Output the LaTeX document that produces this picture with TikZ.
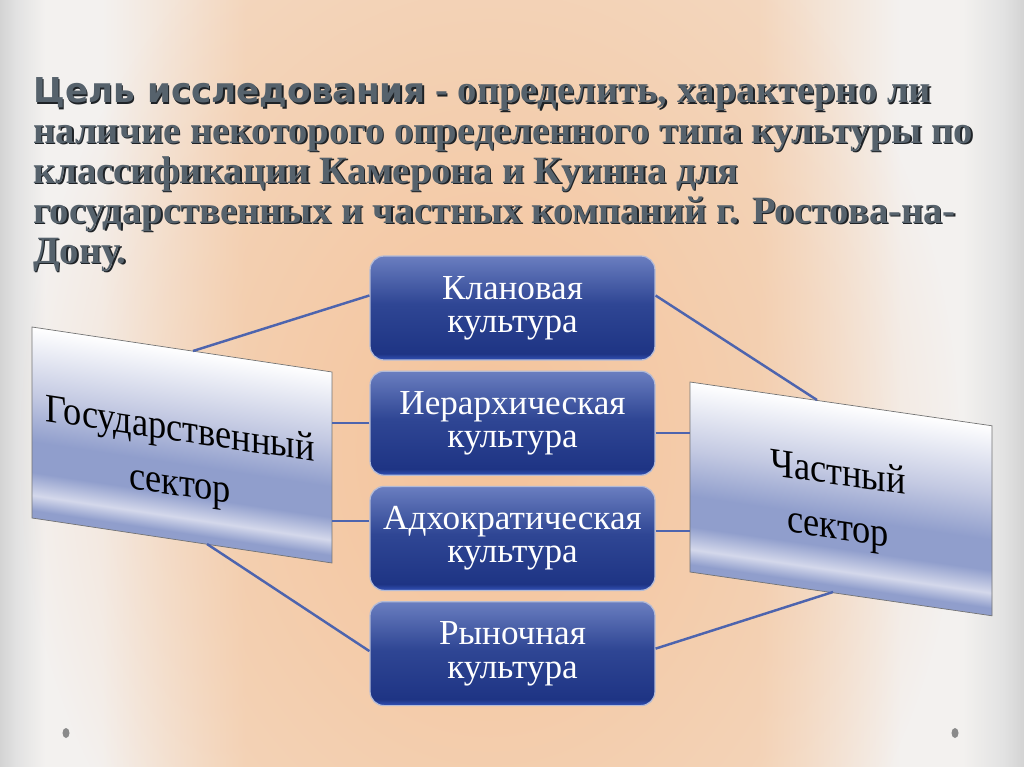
\documentclass[tikz,border=0pt]{standalone}
\usepackage{fontspec}
\setmainfont{Liberation Serif}
\newfontfamily\heavysans{DejaVu Sans}
\newfontfamily\sectorfont{Liberation Serif}[FakeStretch=0.9]
\usetikzlibrary{positioning,fadings}

\definecolor{bggray}{HTML}{D3D3D3}
\definecolor{edgegray}{HTML}{E2E2E2}
\definecolor{paper}{HTML}{F3F1EF}
\definecolor{paperpeach}{HTML}{F3D8C0}
\definecolor{peach}{HTML}{F5C39A}
\definecolor{linkblue}{HTML}{4D64AE}
\definecolor{boxtop}{HTML}{6A7EC0}
\definecolor{boxmid}{HTML}{2F4694}
\definecolor{boxbot}{HTML}{1E3484}
\definecolor{boxedge}{HTML}{3352B8}
\definecolor{boxrim}{HTML}{B4BBD6}
\definecolor{sectorblue}{HTML}{909ECC}
\definecolor{sectormid}{HTML}{C3C9E2}
\definecolor{sectorlight}{HTML}{D4D8EB}
\definecolor{titlegray}{HTML}{56626C}
\definecolor{titledark}{HTML}{1E2226}
\definecolor{dotgray}{HTML}{8A8A8A}

% shadings: the path covers 25bp..75bp
\pgfdeclarehorizontalshading{slidebg}{100bp}{color(0bp)=(bggray); color(25bp)=(bggray); color(25.8bp)=(edgegray); color(27.2bp)=(paper); color(30bp)=(paper); color(37bp)=(paperpeach); color(62bp)=(paperpeach); color(69bp)=(paper); color(72bp)=(paper); color(74bp)=(edgegray); color(75bp)=(bggray); color(100bp)=(bggray)}
\tikzfading[name=glowfade, inner color=transparent!0, outer color=transparent!100]
\pgfdeclareverticalshading{culturefill}{100bp}{color(0bp)=(boxedge); color(25bp)=(boxedge); color(28bp)=(boxbot); color(52bp)=(boxmid); color(75bp)=(boxtop); color(100bp)=(boxtop)}
\pgfdeclareverticalshading{sectorfill}{100bp}{color(0bp)=(sectorblue); color(25bp)=(sectorblue); color(27bp)=(sectorblue); color(31bp)=(sectorlight); color(37bp)=(sectorblue); color(45bp)=(sectorblue); color(57bp)=(sectormid); color(75bp)=(white); color(100bp)=(white)}

\begin{document}
\begin{tikzpicture}[x=0.02cm,y=-0.02cm,
  culture/.style={shade, shading=culturefill, draw=boxrim, line width=0.7pt, rounded corners=0.28cm,
    minimum width=5.7cm, minimum height=2.08cm, text=white, align=center,
    font=\fontsize{20}{19}\selectfont},
  sectorbox/.style={shade, shading=sectorfill, draw=black!55, line width=0.4pt},
  sectortext/.style={align=center, font=\sectorfont\fontsize{23}{31}\selectfont},
  link/.style={draw=linkblue, line width=1.4pt},
  titletext/.style={anchor=base west, inner sep=0pt, text=titlegray,
    font=\bfseries\fontsize{22}{26}\selectfont},
  titleshade/.style={titletext, text=titledark},
  node distance=0.2cm]
\useasboundingbox (0,0) rectangle (1024,767);

% background
\shade[shading=slidebg] (0,0) rectangle (1024,767);
\fill[peach, path fading=glowfade] (490,450) ellipse [x radius=470, y radius=600];
\fill[dotgray] (66,733) ellipse [x radius=3.5, y radius=5];
\fill[dotgray] (955,733) ellipse [x radius=3.5, y radius=5];

% title
\foreach \txt [count=\i] in {{{\heavysans\fontsize{19.5}{26}\selectfont Цель исследования} - определить, характерно ли},
  наличие некоторого определенного типа культуры по,
  классификации Камерона и Куинна для,
  государственных и частных компаний г. Ростова-на-,
  Дону.}{
  \node[titleshade] (title\i-shade) at (34.5,64.5+40*\i) {\txt};
  \node[titletext] (title\i) at (33,63+40*\i) {\txt};
}

% cultures
\node[culture] (klan) at (512.5,308) {Клановая\\культура};
\node[culture, below=of klan] (hier) {Иерархическая\\культура};
\node[culture, below=of hier] (adho) {Адхократическая\\культура};
\node[culture, below=of adho] (market) {Рыночная\\культура};

% sectors
\begin{scope}[transform canvas={yslant=-0.15}]
  \path[sectorbox] (32,322.2) rectangle (332,513.2);
  \node[sectortext] (gov) at (180,432) {Государственный\\сектор};
\end{scope}
\begin{scope}[transform canvas={yslant=-0.145}]
  \path[sectorbox] (690,281.95) rectangle (992,471.95);
  \node[sectortext] (priv) at (838,381) {Частный\\сектор};
\end{scope}

% links
\coordinate (gov-top) at (193,351);
\coordinate (gov-edge) at (332,450);
\coordinate (gov-bottom) at (207,544);
\coordinate (priv-top) at (817,400);
\coordinate (priv-edge) at (690,500);
\coordinate (priv-bottom) at (833,592);
\draw[link] (gov-top) -- (klan.175);
\draw[link] (hier.west) -- (hier.west -| gov-edge);
\draw[link] (adho.173) -- (adho.173 -| gov-edge);
\draw[link] (gov-bottom) -- (market.179);
\draw[link] (klan.5) -- (priv-top);
\draw[link] (hier.356) -- (hier.356 -| priv-edge);
\draw[link] (adho.3) -- (adho.3 -| priv-edge);
\draw[link] (market.2) -- (priv-bottom);
\end{tikzpicture}
\end{document}
